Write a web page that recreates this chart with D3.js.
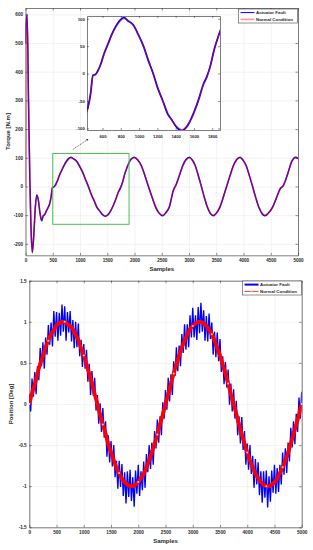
<!DOCTYPE html>
<html>
<head>
<meta charset="utf-8">
<script src="https://cdn.jsdelivr.net/npm/d3@7"></script>
<style>
body{margin:0;background:#fff;}
svg text{font-family:"Liberation Sans",Arial,sans-serif;}
</style>
</head>
<body>
<svg id="fig" width="313" height="550"></svg>
<script>
// torque plot (top)
var torqueSamples = [0,8,30,55,80,100,125,150,180,205,235,265,297,325,350,380,410,440,470,495,520,548,580,620,660,700,745,790,835,880,935,994,1050,1100,1152,1205,1260,1311,1360,1410,1470,1530,1602,1660,1700,1740,1780,1820,1865,1930,1997,2060,2127,2190,2257,2320,2387,2450,2517,2580,2639,2712,2761,2820,2884,2945,3006,3060,3116,3170,3226,3280,3336,3390,3446,3505,3568,3630,3691,3750,3813,3875,3936,3993,4050,4110,4165,4225,4280,4340,4394,4460,4535,4610,4676,4730,4770,4817,4890,4958,5000];
var torqueNormal = [0,550,600,300,20,-140,-232,-175,-75,-32,-48,-90,-118,-104,-98,-88,-76,-64,-35,-5,-1,3,18,36,55,70,84,95,100,97,88,71,48,26,0,-26,-51,-71,-86,-96,-102,-94,-71,-42,-22,-8,15,42,68,92,100,93,71,39,0,-37,-71,-92,-100,-92,-71,-15,4,37,71,92,100,93,71,39,0,-38,-71,-92,-100,-93,-71,-38,0,37,71,92,100,92,71,37,0,-40,-71,-93,-100,-93,-71,-38,-8,2,22,47,88,100,98];
var torqueFault = [500,565,598,302,22,-138,-230,-176,-73,-30,-47,-92,-120,-102,-99,-86,-75,-62,-36,-3,-2,5,17,38,54,71,86,97,102,96,89,70,49,24,1,-27,-50,-73,-85,-98,-104,-95,-70,-43,-21,-6,14,43,67,94,102,92,72,38,-1,-36,-72,-93,-102,-90,-72,-14,5,36,72,94,102,92,72,38,1,-37,-72,-94,-102,-92,-72,-37,1,36,72,94,102,91,72,36,1,-39,-72,-95,-102,-92,-72,-37,-7,3,21,48,89,102,97];
var torqueXTicks = [0,500,1000,1500,2000,2500,3000,3500,4000,4500,5000];
var torqueYTicks = [-200,-100,0,100,200,300,400,500,600];
var insetXTicks = [600,800,1000,1200,1400,1600,1800];
var insetYTicks = [-100,-50,0,50,100];
var zoomRegion = [500,1900,-132,115]; // samples from/to, torque from/to
var arrowFromTo = [[877,130],[1152,165]];

// position plot (bottom)
var posFaultStep = 25;
var posFault = [.12,-.09,.31,.09,.39,.12,.46,.29,.68,.46,.75,.43,.81,.60,.96,.72,.99,.70,1.13,.82,1.12,.77,1.11,.83,1.21,.88,1.19,.77,1.12,.87,1.13,.76,1.02,.68,1.00,.69,.98,.58,.78,.45,.73,.43,.66,.27,.49,.11,.40,.10,.32,-.08,
.11,-.24,.01,-.34,-.05,-.41,-.21,-.64,-.38,-.71,-.45,-.76,-.50,-.89,-.69,-1.03,-.69,-1.01,-.73,-1.12,-.83,-1.21,-.82,-1.13,-.80,-1.18,-.89,-1.25,-.81,-1.09,-.74,-1.12,-.82,-1.05,-.70,-1.02,-.61,-.83,-.50,-.79,-.47,-.74,-.33,-.54,-.19,-.47,-.15,-.38,.02,-.18,
.17,-.07,.32,.03,.36,.11,.52,.34,.69,.40,.71,.46,.85,.62,.97,.66,.97,.69,1.08,.81,1.17,.81,1.08,.78,1.18,.86,1.23,.88,1.14,.77,1.07,.76,1.10,.79,.99,.60,.88,.57,.87,.52,.79,.39,.58,.24,.51,.20,.42,-.01,.25,-.09,
.18,-.18,.04,-.38,-.15,-.48,-.16,-.56,-.33,-.74,-.48,-.80,-.50,-.85,-.63,-1.02,-.67,-.98,-.71,-1.11,-.82,-1.20,-.82,-1.14,-.81,-1.26,-.88,-1.19,-.81,-1.08,-.74,-1.09,-.78,-1.07,-.74,-.98,-.59,-.86,-.54,-.84,-.47,-.70,-.29,-.53,-.21,-.49,-.12,-.34,.08,-.18,.15];
var posNormalStep = 50;
var posNormal = [0,.13,.24,.37,.49,.58,.69,.77,.85,.90,.96,.98,1.00,1.00,.97,.95,.91,.84,.78,.68,.59,.48,.37,.25,.12,
0,-.13,-.25,-.36,-.49,-.59,-.68,-.78,-.84,-.91,-.95,-.98,-1.00,-1.00,-.98,-.95,-.90,-.85,-.77,-.69,-.58,-.49,-.37,-.24,-.13,
0,.12,.25,.37,.48,.59,.69,.77,.84,.91,.95,.98,1.00,1.00,.98,.95,.90,.85,.77,.68,.59,.48,.37,.25,.12,
0,-.12,-.25,-.37,-.48,-.59,-.69,-.77,-.85,-.90,-.95,-.98,-1.00,-1.00,-.98,-.95,-.91,-.84,-.77,-.69,-.59,-.48,-.37,-.25,-.13,0];
var posXTicks = [0,500,1000,1500,2000,2500,3000,3500,4000,4500,5000];
var posYTicks = [-1.5,-1,-0.5,0,0.5,1,1.5];

var legendNames = ["Actuator Fault","Normal Condition"];

var BLUE = "#0000ff", RED = "#ff0000", AXC = "#262626";
var svg = d3.select("#fig");

// inward ticks on all 4 sides + optional grid
function frame(g, x, y, xt, yt, opt){
  var X0 = x.range()[0], X1 = x.range()[1], Y0 = y.range()[0], Y1 = y.range()[1];
  if(opt.grid){
    g.append("g").attr("transform","translate(0,"+Y0+")")
      .call(d3.axisBottom(x).tickValues(xt).tickSize(-(Y0-Y1)).tickFormat(""))
      .call(function(a){a.select(".domain").remove();a.selectAll("line").attr("stroke","#e6e6e6").attr("stroke-width",.5);});
    g.append("g").attr("transform","translate("+X0+",0)")
      .call(d3.axisLeft(y).tickValues(yt).tickSize(-(X1-X0)).tickFormat(""))
      .call(function(a){a.select(".domain").remove();a.selectAll("line").attr("stroke","#e6e6e6").attr("stroke-width",.5);});
  }
  var tk = opt.tick || 2.5;
  var style = function(a){
    a.attr("font-size",opt.fs).attr("font-family","'Liberation Sans',Arial,sans-serif").attr("font-weight","bold");
    a.select(".domain").attr("stroke",AXC).attr("stroke-width",.6);
    a.selectAll("line").attr("stroke",AXC).attr("stroke-width",.5);
    a.selectAll("text").attr("fill",AXC);
  };
  g.append("g").attr("transform","translate(0,"+Y0+")")
    .call(d3.axisBottom(x).tickValues(xt).tickSize(-tk).tickSizeOuter(0).tickPadding(opt.padX).tickFormat(function(d){return String(d);}))
    .call(style);
  g.append("g").attr("transform","translate(0,"+Y1+")")
    .call(d3.axisTop(x).tickValues(xt).tickSize(-tk).tickSizeOuter(0).tickFormat(""))
    .call(style);
  g.append("g").attr("transform","translate("+X0+",0)")
    .call(d3.axisLeft(y).tickValues(yt).tickSize(-tk).tickSizeOuter(0).tickPadding(opt.padY).tickFormat(function(d){return String(d);}))
    .call(style);
  g.append("g").attr("transform","translate("+X1+",0)")
    .call(d3.axisRight(y).tickValues(yt).tickSize(-tk).tickSizeOuter(0).tickFormat(""))
    .call(style);
}

function clip(id, x, y){
  svg.append("clipPath").attr("id",id).append("rect")
    .attr("x",x.range()[0]).attr("y",y.range()[1])
    .attr("width",x.range()[1]-x.range()[0]).attr("height",y.range()[0]-y.range()[1]);
}

function legend(g, x, y, w, h, rows){
  g.append("rect").attr("x",x).attr("y",y).attr("width",w).attr("height",h)
    .attr("fill","#fff").attr("stroke",AXC).attr("stroke-width",.5);
  rows.forEach(function(r,i){
    var ry = y + 3.6 + i*6.8;
    g.append("line").attr("x1",x+2).attr("x2",x+16).attr("y1",ry).attr("y2",ry)
      .attr("stroke",r.color).attr("stroke-width",r.width).attr("stroke-opacity",r.op || 1);
    if(r.dot){
      g.append("circle").attr("cx",x+9).attr("cy",ry).attr("r",1).attr("fill","#cfcfcf");
    }
    g.append("text").attr("x",x+17.5).attr("y",ry+1.6).text(legendNames[i])
      .attr("font-size",4.4).attr("font-weight","bold").attr("fill",AXC);
  });
}

// ---------- top: torque ----------
var tx = d3.scaleLinear().domain([0,5000]).range([25.5,298]);
var ty = d3.scaleLinear().domain([-240,622]).range([255.3,8]);
var tg = svg.append("g").attr("class","torque");
tg.append("rect").attr("x",25.5).attr("y",8).attr("width",272.5).attr("height",247.3).attr("fill","#fff");
frame(tg, tx, ty, torqueXTicks, torqueYTicks, {grid:true, fs:4.6, padX:3.8, padY:2.5});
clip("clipT", tx, ty);

var tLine = d3.line().x(function(d){return tx(d[0]);}).y(function(d){return ty(d[1]);}).curve(d3.curveMonotoneX);
var tFault = torqueSamples.map(function(s,i){return [s, torqueFault[i]];});
var tNorm = torqueSamples.map(function(s,i){return [s, torqueNormal[i]];});
tg.append("path").attr("clip-path","url(#clipT)").attr("d",tLine(tFault))
  .attr("fill","none").attr("stroke",BLUE).attr("stroke-width",1.5);
tg.append("path").attr("clip-path","url(#clipT)").attr("d",tLine(tNorm))
  .attr("fill","none").attr("stroke",RED).attr("stroke-width",1.5).attr("stroke-opacity",.5);

// zoom box + arrow
tg.append("rect")
  .attr("x",tx(zoomRegion[0])).attr("y",ty(zoomRegion[3]))
  .attr("width",tx(zoomRegion[1])-tx(zoomRegion[0])).attr("height",ty(zoomRegion[2])-ty(zoomRegion[3]))
  .attr("fill","none").attr("stroke","#45c44a").attr("stroke-width",1);
svg.append("defs").append("marker").attr("id","ah").attr("viewBox","0 0 10 10")
  .attr("refX",9).attr("refY",5).attr("markerWidth",4).attr("markerHeight",4).attr("orient","auto")
  .append("path").attr("d","M0,1L10,5L0,9z").attr("fill","#111");
tg.append("line")
  .attr("x1",tx(arrowFromTo[0][0])).attr("y1",ty(arrowFromTo[0][1]))
  .attr("x2",tx(arrowFromTo[1][0])).attr("y2",ty(arrowFromTo[1][1]))
  .attr("stroke","#111").attr("stroke-width",.6).attr("stroke-dasharray","1.2,0.8").attr("marker-end","url(#ah)");

tg.append("text").attr("x",(25.5+298)/2).attr("y",270.5).attr("text-anchor","middle")
  .attr("font-size",6).attr("font-weight","bold").attr("fill",AXC).text("Samples");
tg.append("text").attr("transform","translate(9.5,131.5) rotate(-90)").attr("text-anchor","middle")
  .attr("font-size",6).attr("font-weight","bold").attr("fill",AXC).text("Torque [N.m]");

legend(tg, 238.5, 9, 59, 14, [{color:BLUE,width:1},{color:RED,width:1.6,op:.4}]);

// inset
var ix = d3.scaleLinear().domain([430,1885]).range([87,220]);
var iy = d3.scaleLinear().domain([-103,105]).range([130,16]);
var inset = svg.append("g").attr("class","inset");
inset.append("rect").attr("x",87).attr("y",16).attr("width",133).attr("height",114).attr("fill","#fff");
frame(inset, ix, iy, insetXTicks, insetYTicks, {grid:false, fs:4.3, padX:4.5, padY:2.2, tick:2});
clip("clipI", ix, iy);
var iLine = d3.line().x(function(d){return ix(d[0]);}).y(function(d){return iy(d[1]);}).curve(d3.curveMonotoneX);
inset.append("path").attr("clip-path","url(#clipI)").attr("d",iLine(tFault))
  .attr("fill","none").attr("stroke",BLUE).attr("stroke-width",1.8);
inset.append("path").attr("clip-path","url(#clipI)").attr("d",iLine(tNorm))
  .attr("fill","none").attr("stroke",RED).attr("stroke-width",1.2).attr("stroke-opacity",.5);

// ---------- bottom: position ----------
var px = d3.scaleLinear().domain([0,5000]).range([29.3,301.7]);
var py = d3.scaleLinear().domain([-1.5,1.5]).range([527.3,280.7]);
var bot = svg.append("g").attr("class","position");
frame(bot, px, py, posXTicks, posYTicks, {grid:true, fs:4.7, padX:3.8, padY:2.6});
clip("clipP", px, py);

var pLine = d3.line().x(function(d){return px(d[0]);}).y(function(d){return py(d[1]);});
var pFault = posFault.map(function(v,i){return [i*posFaultStep, v];});
var pNorm = posNormal.map(function(v,i){return [i*posNormalStep, v];});
bot.append("path").attr("clip-path","url(#clipP)").attr("d",pLine(pFault))
  .attr("fill","none").attr("stroke",BLUE).attr("stroke-width",1.35).attr("stroke-linejoin","miter");
bot.append("path").attr("clip-path","url(#clipP)").attr("d",pLine.curve(d3.curveMonotoneX)(pNorm))
  .attr("fill","none").attr("stroke",RED).attr("stroke-width",3.8);
bot.append("g").selectAll("circle")
  .data(d3.range(16).map(function(m){return pNorm[Math.round(m*20/3)];}))
  .enter().append("circle")
  .attr("cx",function(d){return px(d[0]);}).attr("cy",function(d){return py(d[1]);})
  .attr("r",1).attr("fill","#d9d9d9");

bot.append("text").attr("x",(29.3+301.7)/2).attr("y",543).attr("text-anchor","middle")
  .attr("font-size",6).attr("font-weight","bold").attr("fill",AXC).text("Samples");
bot.append("text").attr("transform","translate(13,404) rotate(-90)").attr("text-anchor","middle")
  .attr("font-size",6).attr("font-weight","bold").attr("fill",AXC).text("Position [Deg]");

legend(bot, 242.5, 281, 59, 14, [{color:BLUE,width:2},{color:RED,width:.8,dot:true}]);
</script>
</body>
</html>
